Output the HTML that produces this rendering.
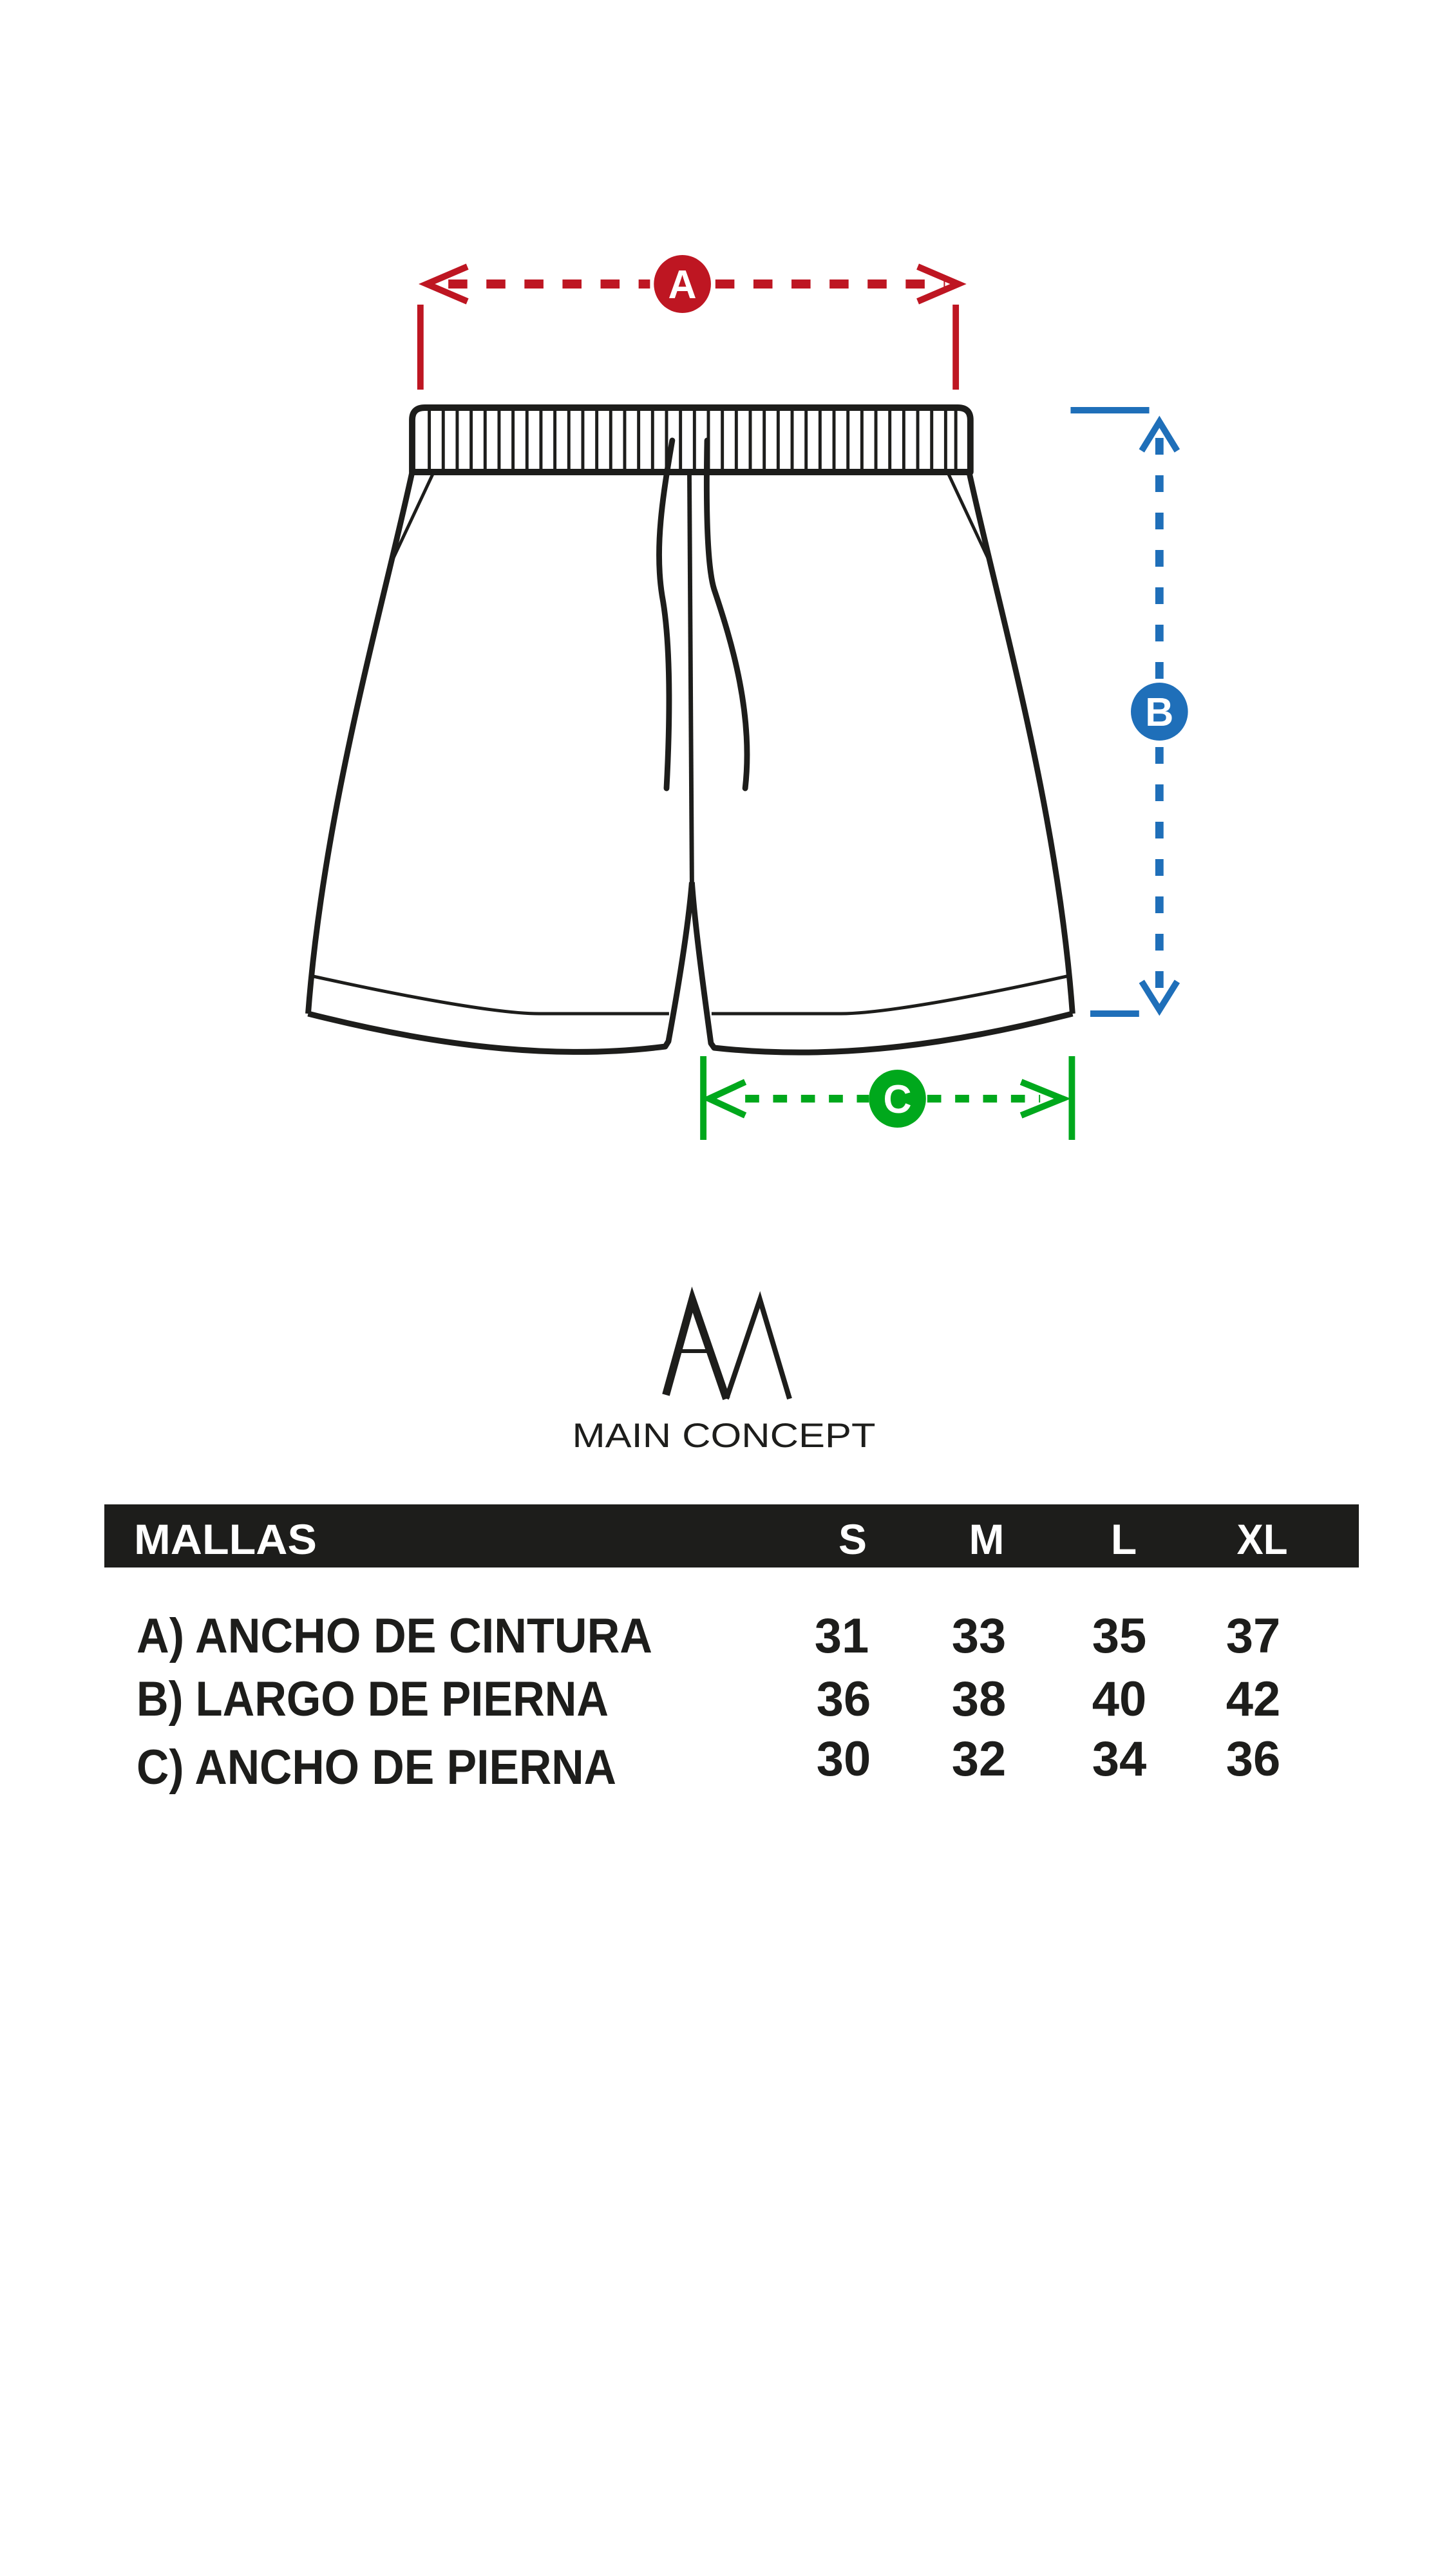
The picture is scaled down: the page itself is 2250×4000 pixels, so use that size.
<!DOCTYPE html>
<html><head><meta charset="utf-8"><style>
html,body{margin:0;padding:0;background:#fff;}
svg{display:block;}
</style></head><body>
<svg width="2250" height="4000" viewBox="0 0 2250 4000" xmlns="http://www.w3.org/2000/svg">
<rect width="2250" height="4000" fill="#fff"/>
<g transform="matrix(0.985,0,0,1,9.6,0)">
<!-- A measure -->
<g stroke="#be1622" fill="none">
  <line x1="653" y1="473" x2="653" y2="605" stroke-width="10"/>
  <line x1="1497" y1="473" x2="1497" y2="605" stroke-width="10"/>
  <line x1="685" y1="441" x2="1015" y2="441" stroke-width="14" stroke-dasharray="30 30" stroke-dashoffset="-12"/>
  <line x1="1118" y1="441" x2="1480" y2="441" stroke-width="14" stroke-dasharray="30 30"/>
  <polyline points="727,414 663,441 727,468" stroke-width="10"/>
  <polyline points="1437,414 1501,441 1437,468" stroke-width="10"/>
</g>
<circle cx="1066" cy="441" r="45" fill="#be1622"/>
<text x="1066" y="463" font-family="Liberation Sans, sans-serif" font-weight="bold" font-size="62" fill="#fff" text-anchor="middle">A</text>

<!-- B measure -->
<g stroke="#1f6fb9" fill="none">
  <line x1="1678" y1="637" x2="1802" y2="637" stroke-width="10"/>
  <line x1="1709" y1="1574" x2="1786" y2="1574" stroke-width="10"/>
  <line x1="1818" y1="680" x2="1818" y2="1058" stroke-width="13" stroke-dasharray="26 32"/>
  <line x1="1818" y1="1160" x2="1818" y2="1545" stroke-width="13" stroke-dasharray="26 32"/>
  <polyline points="1790,700 1818,655 1846,700" stroke-width="10"/>
  <polyline points="1790,1524 1818,1568 1846,1524" stroke-width="10"/>
</g>
<circle cx="1818" cy="1105" r="45" fill="#1f6fb9"/>
<text x="1818" y="1127" font-family="Liberation Sans, sans-serif" font-weight="bold" font-size="62" fill="#fff" text-anchor="middle">B</text>

<!-- C measure -->
<g stroke="#00a81c" fill="none">
  <line x1="1099" y1="1640" x2="1099" y2="1770" stroke-width="10"/>
  <line x1="1680" y1="1640" x2="1680" y2="1770" stroke-width="10"/>
  <line x1="1165" y1="1706" x2="1360" y2="1706" stroke-width="12" stroke-dasharray="22 22"/>
  <line x1="1452" y1="1706" x2="1630" y2="1706" stroke-width="12" stroke-dasharray="22 22"/>
  <polyline points="1165,1680 1108,1706 1165,1732" stroke-width="10"/>
  <polyline points="1600,1680 1665,1706 1600,1732" stroke-width="10"/>
</g>
<circle cx="1405" cy="1706" r="45" fill="#00a81c"/>
<text x="1405" y="1728" font-family="Liberation Sans, sans-serif" font-weight="bold" font-size="62" fill="#fff" text-anchor="middle">C</text>

<!-- Shorts -->
<g stroke="#1d1d1b" fill="none" stroke-linejoin="round">
  <path d="M640,733 L640,652 Q640,633 660,633 L1500,633 Q1520,633 1520,652 L1520,733 Z" stroke-width="10"/>
  <g stroke-width="5">
    <line x1="667" y1="638" x2="667" y2="730"/><line x1="689" y1="638" x2="689" y2="730"/><line x1="711" y1="638" x2="711" y2="730"/><line x1="733" y1="638" x2="733" y2="730"/><line x1="755" y1="638" x2="755" y2="730"/><line x1="777" y1="638" x2="777" y2="730"/><line x1="799" y1="638" x2="799" y2="730"/><line x1="821" y1="638" x2="821" y2="730"/><line x1="843" y1="638" x2="843" y2="730"/><line x1="865" y1="638" x2="865" y2="730"/><line x1="887" y1="638" x2="887" y2="730"/><line x1="909" y1="638" x2="909" y2="730"/><line x1="931" y1="638" x2="931" y2="730"/><line x1="953" y1="638" x2="953" y2="730"/><line x1="975" y1="638" x2="975" y2="730"/><line x1="997" y1="638" x2="997" y2="730"/><line x1="1019" y1="638" x2="1019" y2="730"/><line x1="1041" y1="638" x2="1041" y2="730"/><line x1="1063" y1="638" x2="1063" y2="730"/><line x1="1085" y1="638" x2="1085" y2="730"/><line x1="1107" y1="638" x2="1107" y2="730"/><line x1="1129" y1="638" x2="1129" y2="730"/><line x1="1151" y1="638" x2="1151" y2="730"/><line x1="1173" y1="638" x2="1173" y2="730"/><line x1="1195" y1="638" x2="1195" y2="730"/><line x1="1217" y1="638" x2="1217" y2="730"/><line x1="1239" y1="638" x2="1239" y2="730"/><line x1="1261" y1="638" x2="1261" y2="730"/><line x1="1283" y1="638" x2="1283" y2="730"/><line x1="1305" y1="638" x2="1305" y2="730"/><line x1="1327" y1="638" x2="1327" y2="730"/><line x1="1349" y1="638" x2="1349" y2="730"/><line x1="1371" y1="638" x2="1371" y2="730"/><line x1="1393" y1="638" x2="1393" y2="730"/><line x1="1415" y1="638" x2="1415" y2="730"/><line x1="1437" y1="638" x2="1437" y2="730"/><line x1="1459" y1="638" x2="1459" y2="730"/><line x1="1481" y1="638" x2="1481" y2="730"/><line x1="1497" y1="638" x2="1497" y2="730"/>
  </g>
  <path d="M640,733 C592,950 500,1260 476,1574" stroke-width="9"/>
  <path d="M1518,733 C1566,950 1658,1260 1681,1574" stroke-width="9"/>
  <path d="M476,1574 C700,1630 880,1645 1039,1625 L1044,1617 C1062,1520 1076,1430 1081,1370" stroke-width="9"/>
  <path d="M1681,1574 C1460,1630 1280,1645 1116,1627 L1111,1620 C1100,1540 1086,1440 1081,1370" stroke-width="9"/>
  <path d="M484,1516 C650,1552 780,1574 840,1574 L1045,1574" stroke-width="5"/>
  <path d="M1672,1516 C1506,1552 1376,1574 1316,1574 L1112,1574" stroke-width="5"/>
  <path d="M1077,733 L1081,1370" stroke-width="7"/>
  <path d="M674,733 L604,880" stroke-width="5"/>
  <path d="M1484,733 L1554,880" stroke-width="5"/>
  <path d="M1050,684 C1035,770 1022,850 1034,925 C1050,1010 1045,1150 1041,1224" stroke-width="9" stroke-linecap="round"/>
  <path d="M1105,684 C1103,790 1105,880 1116,915 C1145,1000 1178,1110 1165,1224" stroke-width="9" stroke-linecap="round"/>
</g>
</g>

<!-- Logo -->
<g stroke="#1d1d1b" fill="none" stroke-linejoin="miter">
  <polyline points="1034,2166 1075,2018 1128,2172" stroke-width="12"/>
  <polyline points="1128,2172 1180,2018 1226,2172" stroke-width="8"/>
  <line x1="1052" y1="2098" x2="1102" y2="2098" stroke-width="6"/>
</g>
<text x="1124" y="2247" font-family="Liberation Sans, sans-serif" font-size="53" fill="#1d1d1b" text-anchor="middle" textLength="471" lengthAdjust="spacingAndGlyphs">MAIN CONCEPT</text>

<!-- Table header -->
<rect x="162" y="2336" width="1948" height="98" fill="#1d1d1b"/>
<g font-family="Liberation Sans, sans-serif" font-weight="bold" fill="#fff" font-size="66">
  <text x="208" y="2413" textLength="284" lengthAdjust="spacingAndGlyphs">MALLAS</text>
  <text x="1324" y="2413" text-anchor="middle">S</text>
  <text x="1532" y="2413" text-anchor="middle">M</text>
  <text x="1745" y="2413" text-anchor="middle">L</text>
  <text x="1960" y="2413" text-anchor="middle" textLength="79" lengthAdjust="spacingAndGlyphs">XL</text>
</g>
<g font-family="Liberation Sans, sans-serif" font-weight="bold" fill="#1d1d1b" font-size="76">
  <text x="212" y="2566" textLength="801" lengthAdjust="spacingAndGlyphs">A) ANCHO DE CINTURA</text>
  <text x="212" y="2664" textLength="733" lengthAdjust="spacingAndGlyphs">B) LARGO DE PIERNA</text>
  <text x="212" y="2770" textLength="745" lengthAdjust="spacingAndGlyphs">C) ANCHO DE PIERNA</text>
  <g text-anchor="middle">
    <text x="1307" y="2566">31</text><text x="1520" y="2566">33</text><text x="1738" y="2566">35</text><text x="1946" y="2566">37</text>
    <text x="1310" y="2664">36</text><text x="1520" y="2664">38</text><text x="1738" y="2664">40</text><text x="1946" y="2664">42</text>
    <text x="1310" y="2757">30</text><text x="1520" y="2757">32</text><text x="1738" y="2757">34</text><text x="1946" y="2757">36</text>
  </g>
</g>
</svg>
</body></html>
